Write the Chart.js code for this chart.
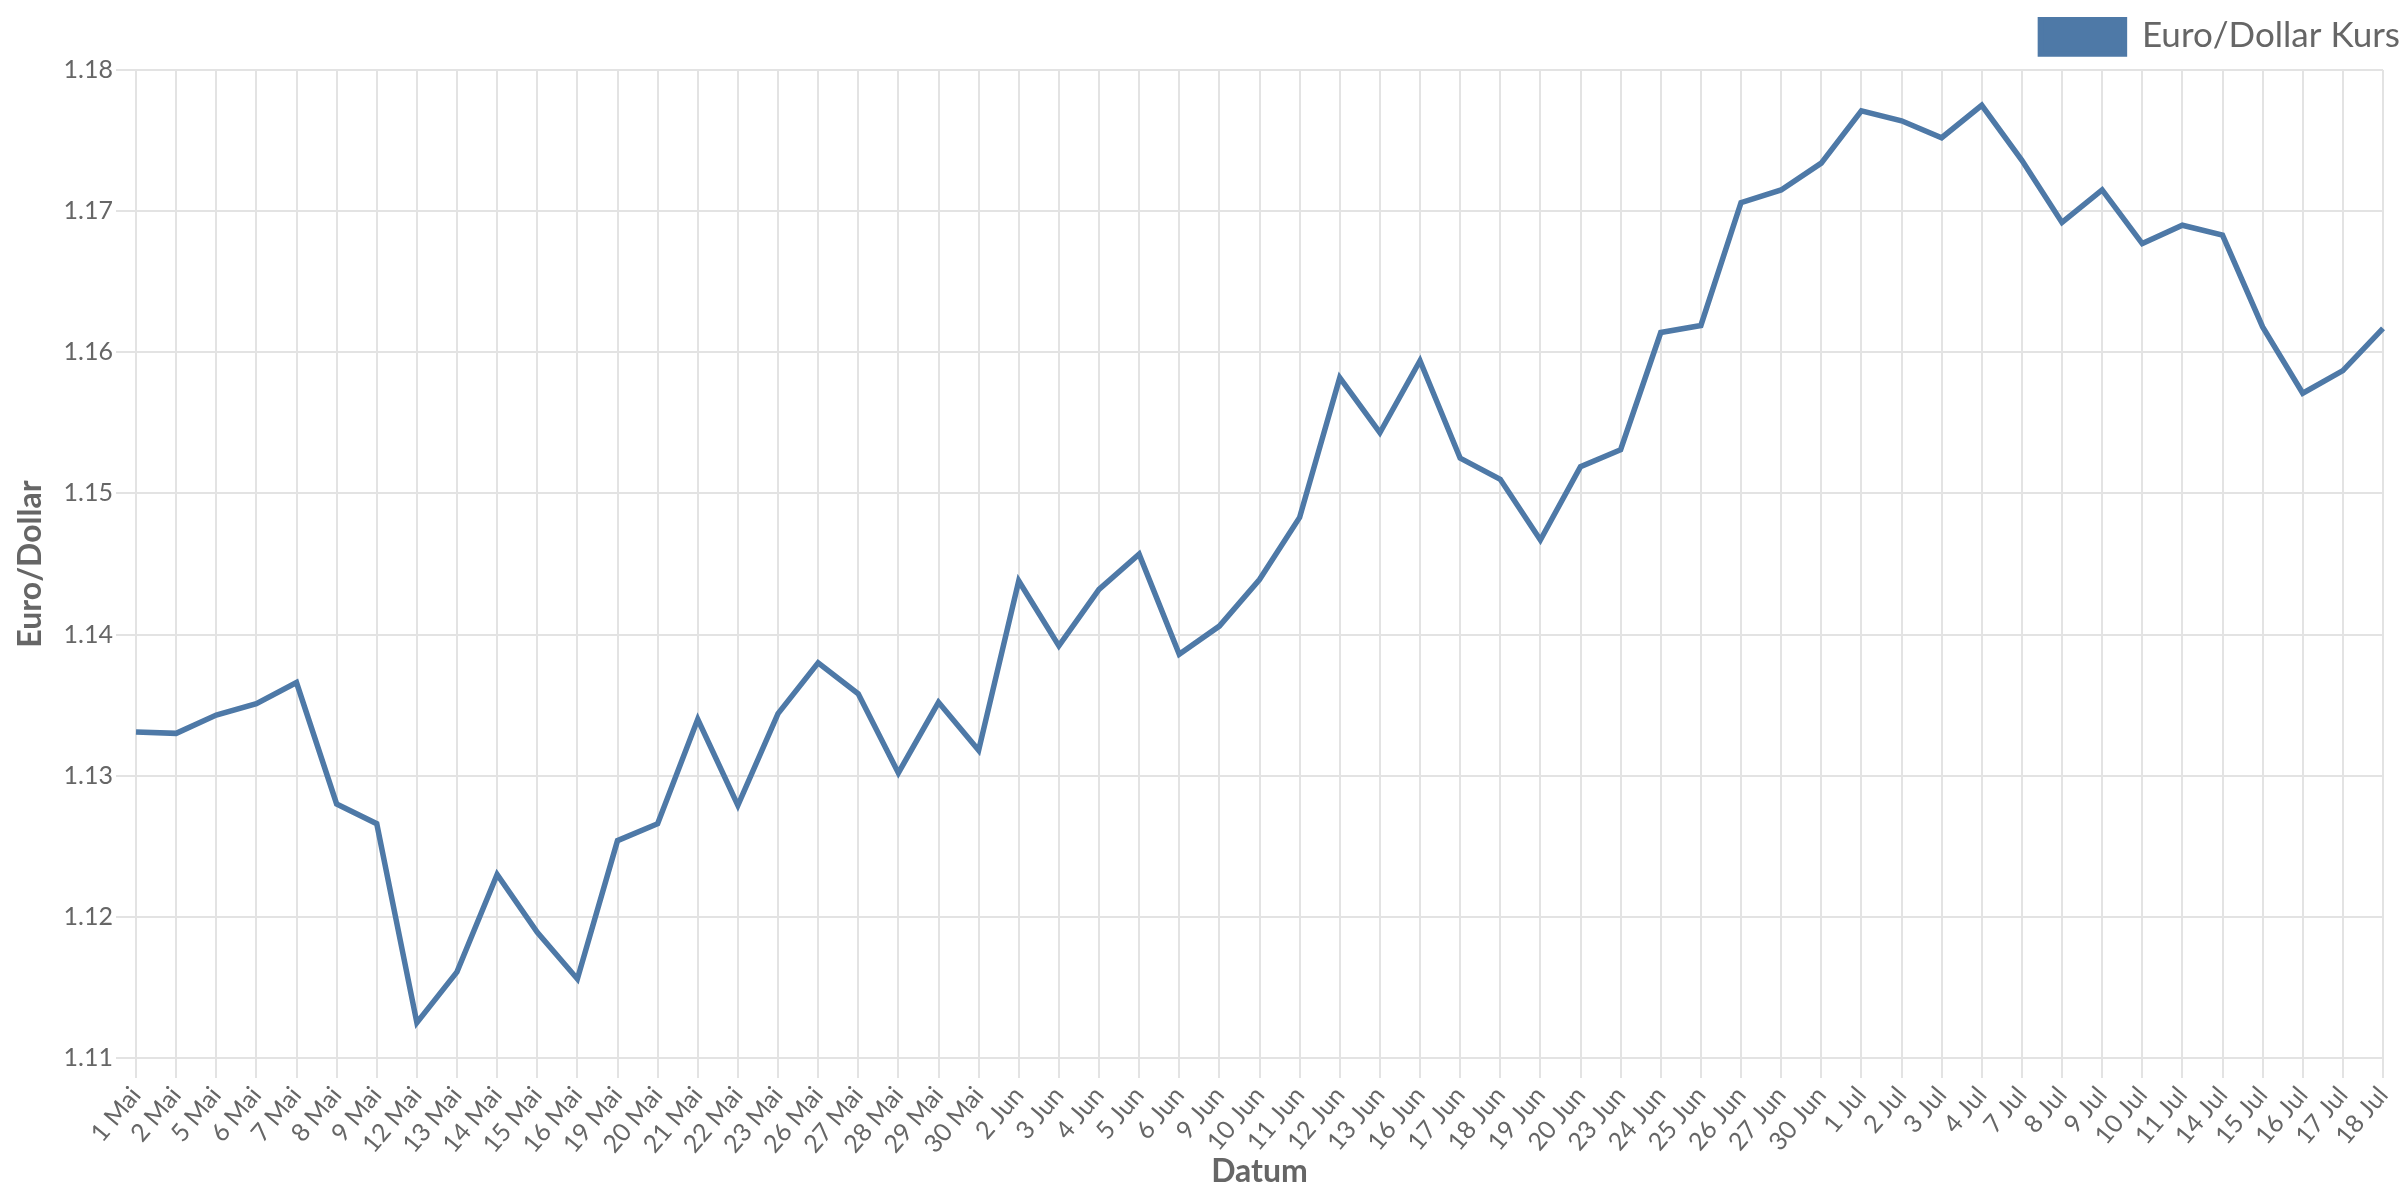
<!DOCTYPE html>
<html>
<head>
<meta charset="utf-8">
<script src="https://cdn.jsdelivr.net/npm/chart.js@4/dist/chart.umd.min.js"></script>
<style>
html,body{margin:0;padding:0;background:#fff}
#wrap{width:2400px;height:1200px;position:relative}
</style>
</head>
<body>
<div id="wrap"><canvas id="c"></canvas></div>
<script>
const categories = [
  "1 Mai","2 Mai","5 Mai","6 Mai","7 Mai","8 Mai","9 Mai","12 Mai","13 Mai","14 Mai","15 Mai","16 Mai",
  "19 Mai","20 Mai","21 Mai","22 Mai","23 Mai","26 Mai","27 Mai","28 Mai","29 Mai","30 Mai",
  "2 Jun","3 Jun","4 Jun","5 Jun","6 Jun","9 Jun","10 Jun","11 Jun","12 Jun","13 Jun","16 Jun","17 Jun",
  "18 Jun","19 Jun","20 Jun","23 Jun","24 Jun","25 Jun","26 Jun","27 Jun","30 Jun",
  "1 Jul","2 Jul","3 Jul","4 Jul","7 Jul","8 Jul","9 Jul","10 Jul","11 Jul","14 Jul","15 Jul","16 Jul","17 Jul","18 Jul"
];
const rates = [
  1.1331,1.1330,1.1343,1.1351,1.1366,1.1280,1.1266,1.1125,1.1161,1.1230,1.1189,1.1156,
  1.1254,1.1266,1.1340,1.1279,1.1344,1.1380,1.1358,1.1302,1.1352,1.1318,
  1.1438,1.1392,1.1432,1.1457,1.1386,1.1406,1.1439,1.1483,1.1582,1.1543,1.1594,1.1525,
  1.1510,1.1467,1.1519,1.1531,1.1614,1.1619,1.1706,1.1715,1.1734,
  1.1771,1.1764,1.1752,1.1775,1.1736,1.1692,1.1715,1.1677,1.1690,1.1683,1.1618,1.1571,1.1587,1.1617
];
const seriesName = "Euro/Dollar Kurs";
const yMin = 1.11, yMax = 1.18, yStep = 0.01;
const xTitle = "Datum";
const yTitle = "Euro/Dollar";

const legendGap = {
  id: "legendGap",
  beforeInit(chart) {
    if (!chart.legend) return;
    const origFit = chart.legend.fit;
    chart.legend.fit = function () {
      origFit.call(this);
      this.height += 6;
    };
  }
};

function draw(){
  Chart.defaults.font.family = "Lato";
  Chart.defaults.color = "#666";
  new Chart(document.getElementById("c"), {
    type: "line",
    plugins: [legendGap],
    data: {
      labels: categories,
      datasets: [{
        label: seriesName,
        data: rates,
        borderColor: "#4e79a7",
        backgroundColor: "#4e79a7",
        borderWidth: 5.5,
        pointRadius: 0,
        pointHoverRadius: 0,
        tension: 0,
        fill: false
      }]
    },
    options: {
      responsive: true,
      maintainAspectRatio: false,
      devicePixelRatio: 1,
      animation: false,
      layout: { padding: { top: 17, right: 0, bottom: 0, left: 0 } },
      plugins: {
        legend: {
          position: "top",
          align: "end",
          labels: {
            boxWidth: 84,
            boxHeight: 37,
            font: { size: 35 },
            color: "#666",
            padding: 0
          }
        },
        tooltip: { enabled: false }
      },
      scales: {
        x: {
          afterFit: s => { s.height = 142; s.paddingRight = 17; },
          grid: { color: "#e3e3e3", lineWidth: 2, tickLength: 20 },
          border: { color: "#e3e3e3", width: 2 },
          ticks: { font: { size: 25 }, color: "#666", autoSkip: false, minRotation: 50, maxRotation: 50, padding: 3 },
          title: { display: true, text: xTitle, font: { size: 32, weight: "bold" }, color: "#666", padding: { top: 6, bottom: 9 } }
        },
        y: {
          min: yMin,
          max: yMax,
          afterFit: s => { s.width = 136; },
          grid: { color: "#e3e3e3", lineWidth: 2, tickLength: 20 },
          border: { color: "#e3e3e3", width: 2 },
          ticks: { stepSize: yStep, font: { size: 25 }, color: "#666", padding: 3,
                   callback: v => v.toFixed(2) },
          title: { display: true, text: yTitle, font: { size: 32, weight: "bold" }, color: "#666", padding: { top: 11, bottom: 20 } }
        }
      }
    }
  });
}
if (document.fonts && document.fonts.load) {
  Promise.all([
    document.fonts.load("25px Lato"),
    document.fonts.load("bold 32px Lato"),
    document.fonts.load("35px Lato")
  ]).then(draw, draw);
} else { draw(); }
</script>
</body>
</html>
